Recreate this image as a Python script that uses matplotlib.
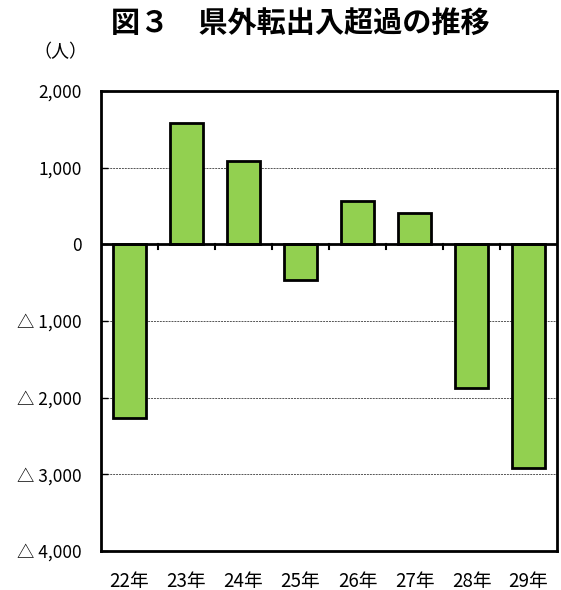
import matplotlib.pyplot as plt
import numpy as np

plt.rcParams['font.family'] = ['Noto Sans CJK JP', 'DejaVu Sans']

years = ["22年", "23年", "24年", "25年", "26年", "27年", "28年", "29年"]
net = [-2270, 1580, 1090, -465, 565, 410, -1870, -2920]
yticks = [-4000, -3000, -2000, -1000, 0, 1000, 2000]
ylabels = ["△ 4,000", "△ 3,000", "△ 2,000", "△ 1,000", "0", "1,000", "2,000"]

fig = plt.figure(figsize=(5.61, 5.90), dpi=100)
ax = fig.add_axes([0.180, 0.066, 0.813, 0.780])

x = np.arange(len(years))
ax.bar(x, net, width=0.57, color="#92D050", edgecolor="black", linewidth=2, zorder=3)

ax.set_xlim(-0.5, len(years) - 0.5)
ax.set_ylim(-4000, 2000)
ax.set_yticks(yticks)
ax.set_yticklabels(ylabels, fontsize=12.5)
ax.tick_params(axis='y', direction='in', length=5, width=1, pad=14)

# gridlines
for v in [1000, -1000, -2000, -3000]:
    ax.axhline(v, color="#555555", linestyle=(0, (2, 1)), linewidth=0.7, zorder=1)

# zero line with small ticks at category boundaries
ax.axhline(0, color="black", linewidth=2, zorder=4)
for b in np.arange(0.5, len(years) - 0.5, 1.0):
    ax.plot([b, b], [0, -60], color="black", linewidth=1.5, zorder=4)

ax.set_xticks(x)
ax.set_xticklabels(years, fontsize=13.5)
ax.tick_params(axis='x', length=0, pad=14)

for s in ax.spines.values():
    s.set_linewidth(2)

fig.text(0.535, 0.962, "図３　県外転出入超過の推移", ha="center", va="center",
         fontsize=21, fontweight="bold")
fig.text(0.107, 0.912, "（人）", ha="center", va="center", fontsize=13)

fig.savefig("out.png", dpi=100)
